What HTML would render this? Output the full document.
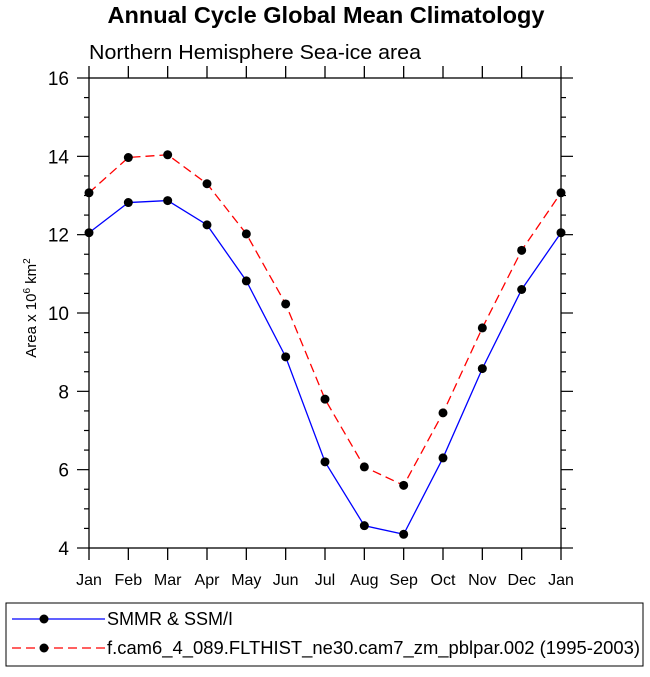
<!DOCTYPE html>
<html><head><meta charset="utf-8"><style>
body{margin:0;background:#fff;width:650px;height:672px;overflow:hidden}
text{font-family:"Liberation Sans",Arial,sans-serif}
</style></head><body>
<svg id="c" width="650" height="672">
<text x="326" y="23" text-anchor="middle" font-size="23" font-weight="bold" textLength="437" lengthAdjust="spacingAndGlyphs">Annual Cycle Global Mean Climatology</text>
<text x="89" y="59" font-size="20" textLength="332" lengthAdjust="spacingAndGlyphs">Northern Hemisphere Sea-ice area</text>
<text transform="translate(36,308) rotate(-90)" text-anchor="middle" font-size="15">Area x 10<tspan dy="-6" font-size="10">6</tspan><tspan dy="6"> km</tspan><tspan dy="-6" font-size="10">2</tspan></text>
<g id="axes"></g><g id="series"></g>
<rect x="6" y="603" width="637" height="63" fill="none" stroke="#000" stroke-width="1"/>
<g>
<line x1="12" y1="619" x2="105" y2="619" stroke="#00f" stroke-width="1.3"/><circle cx="44" cy="619" r="4.5"/>
<text x="107" y="625" font-size="18">SMMR &amp; SSM/I</text></g>
<g>
<line x1="12" y1="648" x2="105" y2="648" stroke="#f00" stroke-width="1.3" stroke-dasharray="9,5"/><circle cx="44" cy="648" r="4.5"/>
<text x="107" y="654" font-size="18" textLength="533" lengthAdjust="spacingAndGlyphs">f.cam6_4_089.FLTHIST_ne30.cam7_zm_pblpar.002 (1995-2003)</text></g>
</svg>
<script>
const months=["Jan","Feb","Mar","Apr","May","Jun","Jul","Aug","Sep","Oct","Nov","Dec","Jan"];
const obs=[12.05,12.82,12.87,12.25,10.82,8.88,6.2,4.57,4.35,6.3,8.58,10.6,12.05];
const model=[13.07,13.97,14.04,13.3,12.02,10.23,7.8,6.07,5.6,7.45,9.62,11.6,13.07];
const yTicks=[4,6,8,10,12,14,16];
const L=89,R=561,T=78,B=548,ymin=4,ymax=16;
const NS="http://www.w3.org/2000/svg";
const xs=i=>L+(R-L)*i/(months.length-1);
const ys=v=>B-(B-T)*(v-ymin)/(ymax-ymin);
function mk(t,a,p){const e=document.createElementNS(NS,t);for(const k in a)e.setAttribute(k,a[k]);p.appendChild(e);return e;}
const ax=document.getElementById('axes'),sg=document.getElementById('series');
const fr=mk('rect',{x:L,y:T,width:R-L,height:B-T,fill:'none',stroke:'#000','stroke-width':1.3},ax);


months.forEach((m,i)=>{const x=xs(i);
mk('line',{x1:x,y1:B,x2:x,y2:B+12,stroke:'#000','stroke-width':1.3},ax);
mk('line',{x1:x,y1:T,x2:x,y2:T-12,stroke:'#000','stroke-width':1.3},ax);
const t=mk('text',{x:x,y:B+37,'text-anchor':'middle','font-size':16},ax);t.textContent=m;

});
for(let v=ymin;v<=ymax+1e-9;v+=0.5){const y=ys(v);const maj=Math.abs(v%2)<1e-9;const len=maj?12:5;
mk('line',{x1:L,y1:y,x2:L-len,y2:y,stroke:'#000','stroke-width':1.2},ax);
mk('line',{x1:R,y1:y,x2:R+len,y2:y,stroke:'#000','stroke-width':1.2},ax);}
yTicks.forEach(v=>{const t=mk('text',{x:L-20,y:ys(v)+7,'text-anchor':'end','font-size':19},ax);t.textContent=v;

});
function series(d,col,dash,name){const g=mk('g',{},sg);


mk('polyline',{points:d.map((v,i)=>xs(i)+','+ys(v)).join(' '),fill:'none',stroke:col,'stroke-width':1.3,'stroke-dasharray':dash},g);
d.forEach((v,i)=>mk('circle',{cx:xs(i),cy:ys(v),r:4.5},g));}
series(obs,'#00f','none','series-obs');
series(model,'#f00','9,5','series-model');
</script>
</body></html>
